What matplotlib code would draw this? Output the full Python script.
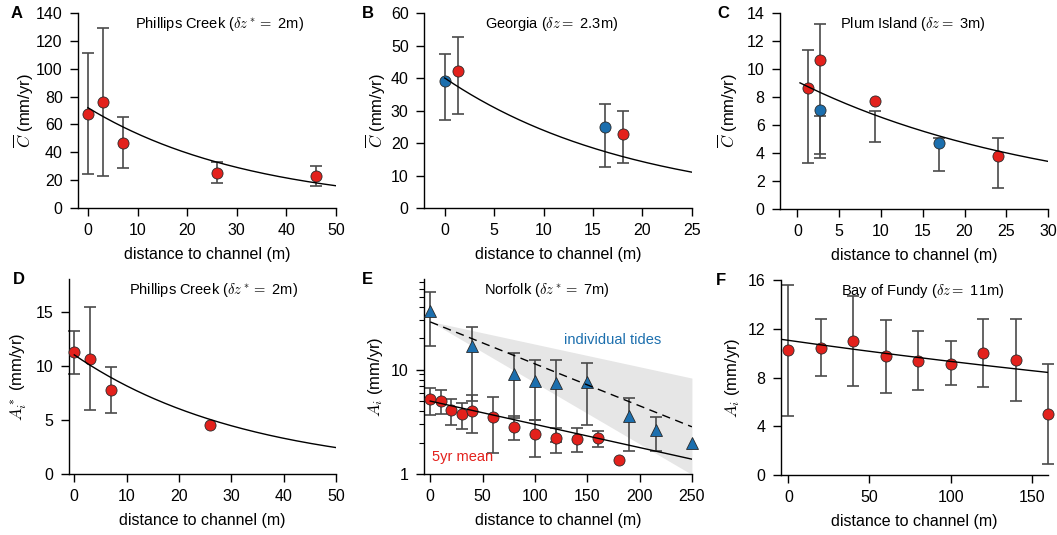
import numpy as np
import matplotlib
matplotlib.use("Agg")
import matplotlib.pyplot as plt
from matplotlib.ticker import LogLocator, NullFormatter, FixedLocator, FixedFormatter

plt.rcParams['font.family'] = ['Liberation Sans', 'DejaVu Sans']
plt.rcParams['mathtext.fontset'] = 'cm'

RED = '#e3211c'
BLUE = '#1c6fae'
BAR = '#4a4a4a'

# ---- A: Phillips Creek, C-bar ----
a_x = [0, 3, 7, 26, 46]
a_y = [67.8, 76.2, 46.8, 25.3, 23.2]
a_lo = [24.1, 22.7, 28.7, 17.7, 16.0]
a_hi = [111.6, 129.2, 65.0, 32.7, 29.9]
a_fit = (72.0, 33.2)

# ---- B: Georgia ----
b_red_x = [1.35, 18.0]
b_red_y = [42.1, 22.9]
b_red_lo = [28.9, 14.0]
b_red_hi = [52.6, 30.0]
b_blue_x = [0.0, 16.2]
b_blue_y = [39.0, 24.8]
b_blue_lo = [27.1, 12.5]
b_blue_hi = [47.5, 32.1]
b_fit = (40.0, 19.4)

# ---- C: Plum Island ----
c_red_x = [1.24, 2.7, 9.3, 24.0]
c_red_y = [8.67, 10.67, 7.68, 3.79]
c_red_lo = [3.29, 3.64, 4.81, 1.48]
c_red_hi = [11.38, 13.19, 7.02, 5.10]
c_blue_x = [2.7, 17.0]
c_blue_y = [7.05, 4.71]
c_blue_lo = [3.9, 2.74]
c_blue_hi = [6.62, 5.10]
c_fit = (9.1, 30.5)

# ---- D: Phillips Creek, A_i* ----
d_x = [0, 3, 7, 26]
d_y = [11.22, 10.64, 7.75, 4.55]
d_lo = [9.22, 5.93, 5.60, np.nan]
d_hi = [13.2, 15.37, 9.87, np.nan]
d_fit = (11.0, 33.2)

# ---- E: Norfolk ----
e_mean_x = [0, 10, 20, 30, 40, 60, 80, 100, 120, 140, 160, 180]
e_mean_y = [5.21, 5.06, 4.12, 3.74, 4.06, 3.53, 2.85, 2.43, 2.19, 2.16, 2.21, 1.35]
e_mean_lo = [3.66, 3.75, 2.98, 2.71, 2.48, 1.59, 2.13, 1.47, 1.59, 1.61, 1.80, np.nan]
e_mean_hi = [6.73, 6.45, 5.25, 4.77, 5.73, 5.44, 3.60, 3.33, 2.75, 2.75, 2.61, np.nan]
e_tide_x = [0, 40, 80, 100, 120, 150, 190, 216, 250]
e_tide_y = [36.9, 16.9, 9.02, 7.74, 7.40, 7.60, 3.63, 2.63, 1.98]
e_tide_lo = [16.8, 5.02, 3.43, 3.33, 2.04, 2.98, 1.65, 1.65, np.nan]
e_tide_hi = [55.6, 25.7, 14.3, 12.4, 12.4, 11.7, 5.40, 3.53, np.nan]
e_fit_mean = (5.0, 195.0)
e_fit_tide = (28.7, 108.0)
e_band_hi = (29.0, 200.0)
e_band_lo = (29.0, 74.0)

# ---- F: Bay of Fundy ----
f_x = [0, 20, 40, 60, 80, 100, 120, 140, 160]
f_y = [10.25, 10.46, 10.98, 9.75, 9.37, 9.15, 10.03, 9.45, 4.97]
f_lo = [4.84, 8.11, 7.32, 6.72, 6.94, 7.35, 7.19, 6.09, 0.87]
f_hi = [15.57, 12.84, 14.7, 12.76, 11.8, 10.98, 12.84, 12.84, 9.07]
f_fit = (11.05, 588.0)


def expfit(params, x):
    amp, length = params
    return amp * np.exp(-np.asarray(x) / length)


def bars(ax, x, lo, hi):
    lo = np.asarray(lo, float)
    hi = np.asarray(hi, float)
    cont = ax.errorbar(x, (lo + hi) / 2, yerr=(hi - lo) / 2, fmt='none',
                       ecolor=BAR, elinewidth=1.2, capsize=4, capthick=1.2, zorder=2)
    for art in cont.get_children():
        art.set_clip_on(False)


def dots(ax, x, y, color, marker='o', size=8):
    ax.plot(x, y, marker, color=color, markersize=size, markeredgecolor='#2a2a2a',
            markeredgewidth=0.6, linestyle='none', zorder=3, clip_on=False)


def style(ax, letter, title, tx, ylabel, lx, lpad=4):
    ax.spines['top'].set_visible(False)
    ax.spines['right'].set_visible(False)
    for s in ('left', 'bottom'):
        ax.spines[s].set_linewidth(1.0)
    ax.tick_params(direction='out', length=6, width=1.0, pad=5, labelsize=11.5)
    ax.tick_params(which='minor', direction='out', length=3.5, width=0.8)
    ax.set_xlabel('distance to channel (m)', fontsize=11.5, labelpad=6)
    ax.set_ylabel(ylabel, fontsize=12, labelpad=lpad)
    ax.text(tx, 0.944, title, transform=ax.transAxes, ha='center', va='center', fontsize=10.5)
    ax.text(lx, 1.0, letter, transform=ax.transAxes, ha='left', va='center',
            fontsize=12, fontweight='bold')


fig = plt.figure(figsize=(10.57, 5.35), dpi=100)

# A
ax = fig.add_axes([0.0738, 0.6112, 0.2441, 0.3645])
bars(ax, a_x, a_lo, a_hi)
dots(ax, a_x, a_y, RED)
xs = np.linspace(0, 50, 200)
ax.plot(xs, expfit(a_fit, xs), color='black', lw=1.0, zorder=4)
ax.set_xlim(-2, 50)
ax.set_ylim(0, 140)
ax.set_xticks(range(0, 51, 10))
ax.set_yticks(range(0, 141, 20))
style(ax, 'A', r'Phillips Creek ($\delta z^* =$ 2m)', 0.55, r'$\overline{C}$ (mm/yr)', -0.26, lpad=0)

# B
ax = fig.add_axes([0.4011, 0.6112, 0.2535, 0.3645])
bars(ax, b_blue_x, b_blue_lo, b_blue_hi)
bars(ax, b_red_x, b_red_lo, b_red_hi)
dots(ax, b_blue_x, b_blue_y, BLUE)
dots(ax, b_red_x, b_red_y, RED)
xs = np.linspace(0, 25, 200)
ax.plot(xs, expfit(b_fit, xs), color='black', lw=1.0, zorder=4)
ax.set_xlim(-2.1, 25)
ax.set_ylim(0, 60)
ax.set_xticks(range(0, 26, 5))
ax.set_yticks(range(0, 61, 10))
style(ax, 'B', r'Georgia ($\delta z =$ 2.3m)', 0.476, r'$\overline{C}$ (mm/yr)', -0.23, lpad=2)

# C
ax = fig.add_axes([0.7379, 0.6093, 0.2536, 0.3664])
bars(ax, c_red_x, c_red_lo, c_red_hi)
bars(ax, c_blue_x, c_blue_lo, c_blue_hi)
dots(ax, c_red_x, c_red_y, RED)
dots(ax, c_blue_x, c_blue_y, BLUE)
xs = np.linspace(0.3, 30, 200)
ax.plot(xs, expfit(c_fit, xs), color='black', lw=1.0, zorder=4)
ax.set_xlim(-2.1, 30)
ax.set_ylim(0, 14)
ax.set_xticks(range(0, 31, 5))
ax.set_yticks(range(0, 15, 2))
style(ax, 'C', r'Plum Island ($\delta z =$ 3m)', 0.497, r'$\overline{C}$ (mm/yr)', -0.235, lpad=5)

# D
ax = fig.add_axes([0.0653, 0.1140, 0.2526, 0.3645])
bars(ax, d_x, d_lo, d_hi)
dots(ax, d_x, d_y, RED)
xs = np.linspace(0, 50, 200)
ax.plot(xs, expfit(d_fit, xs), color='black', lw=1.0, zorder=4)
ax.set_xlim(-1, 50)
ax.set_ylim(0, 18)
ax.set_xticks(range(0, 51, 10))
ax.set_yticks([0, 5, 10, 15])
style(ax, 'D', r'Phillips Creek ($\delta z^* =$ 2m)', 0.54, r'$A_i^*$ (mm/yr)', -0.21)

# E
ax = fig.add_axes([0.4011, 0.1140, 0.2535, 0.3645])
ax.set_yscale('log')
xs = np.linspace(0, 250, 200)
ax.fill_between(xs, expfit(e_band_lo, xs), expfit(e_band_hi, xs),
                color='#e6e6e6', lw=0, zorder=1)
bars(ax, e_tide_x, e_tide_lo, e_tide_hi)
bars(ax, e_mean_x, e_mean_lo, e_mean_hi)
dots(ax, e_mean_x, e_mean_y, RED)
dots(ax, e_tide_x, e_tide_y, BLUE, marker='^', size=8.5)
ax.plot(xs, expfit(e_fit_mean, xs), color='black', lw=1.0, zorder=4)
ax.plot(xs, expfit(e_fit_tide, xs), color='black', lw=1.0, ls=(0, (6, 4)), zorder=4)
ax.set_xlim(-6, 250)
ax.set_ylim(1, 74)
ax.set_xticks(range(0, 251, 50))
ax.yaxis.set_major_locator(FixedLocator([1, 10]))
ax.yaxis.set_major_formatter(FixedFormatter(['1', '10']))
ax.yaxis.set_minor_locator(LogLocator(base=10, subs=np.arange(2, 10)))
ax.yaxis.set_minor_formatter(NullFormatter())
ax.text(174, 19.2, 'individual tides', color=BLUE, fontsize=10.5, ha='center', va='center')
ax.text(30.6, 1.44, '5yr mean', color=RED, fontsize=10.5, ha='center', va='center')
style(ax, 'E', r'Norfolk ($\delta z^* =$ 7m)', 0.458, r'$A_i$ (mm/yr)', -0.23)

# F
ax = fig.add_axes([0.7389, 0.1121, 0.2526, 0.3645])
bars(ax, f_x, f_lo, f_hi)
dots(ax, f_x, f_y, RED)
xs = np.linspace(-4.5, 160, 200)
ax.plot(xs, expfit(f_fit, xs), color='black', lw=1.0, zorder=4)
ax.set_xlim(-4.5, 160)
ax.set_ylim(0, 16)
ax.set_xticks([0, 50, 100, 150])
ax.set_yticks(range(0, 17, 4))
style(ax, 'F', r'Bay of Fundy ($\delta z =$ 11m)', 0.531, r'$A_i$ (mm/yr)', -0.245)

fig.savefig('out.png', dpi=100)
